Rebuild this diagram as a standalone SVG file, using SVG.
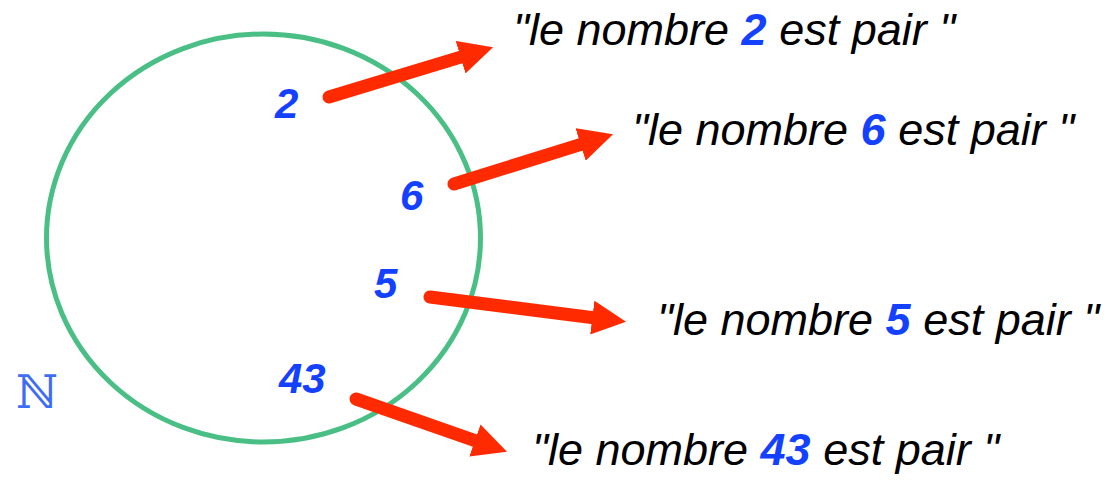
<svg xmlns="http://www.w3.org/2000/svg" width="1107" height="482" viewBox="0 0 1107 482">
  <defs>
    <marker id="head" markerUnits="userSpaceOnUse" viewBox="0 0 34 34" markerWidth="34" markerHeight="34" refX="13" refY="17" orient="auto">
      <path d="M0,0 L34,17 L0,34 Z" fill="#ff2a00"/>
    </marker>
    <style>
      .set { fill: none; stroke: #4abf85; stroke-width: 5; }
      .arrow { stroke: #ff2a00; stroke-width: 13; stroke-linecap: round; fill: none; marker-end: url(#head); }
      .num { font-family: "Liberation Sans", Arial, sans-serif; font-weight: bold; font-style: italic; font-size: 42px; fill: #1440ff; }
      .stmt { font-family: "Liberation Sans", Arial, sans-serif; font-style: italic; font-size: 45px; fill: #000; }
      .stmt .n { font-weight: bold; fill: #1440ff; }
      .setname { font-family: "DejaVu Serif", "DejaVu Sans", serif; font-size: 46px; fill: #3d6df5; }
    </style>
  </defs>
  <rect width="1107" height="482" fill="#ffffff"/>

  <g id="set-N">
    <ellipse class="set" cx="263.5" cy="238" rx="217" ry="204"/>
    <text class="setname" x="16" y="408">ℕ</text>
  </g>

  <g id="elem-2"><text class="num" x="275" y="118">2</text></g>
  <g id="elem-6"><text class="num" x="400" y="210">6</text></g>
  <g id="elem-5"><text class="num" x="374" y="298">5</text></g>
  <g id="elem-43"><text class="num" x="279" y="393">43</text></g>

  <g id="connectors">
    <line class="arrow" x1="329" y1="97" x2="473" y2="53.4"/>
    <line class="arrow" x1="454" y1="184" x2="593" y2="140.6"/>
    <line class="arrow" x1="430" y1="297" x2="605.2" y2="319.2"/>
    <line class="arrow" x1="356" y1="399" x2="487.2" y2="444.8"/>
  </g>

  <g id="stmt-2"><text class="stmt" x="513" y="45">"le nombre <tspan class="n">2</tspan> est pair "</text></g>
  <g id="stmt-6"><text class="stmt" x="632" y="145">"le nombre <tspan class="n">6</tspan> est pair "</text></g>
  <g id="stmt-5"><text class="stmt" x="657" y="335">"le nombre <tspan class="n">5</tspan> est pair "</text></g>
  <g id="stmt-43"><text class="stmt" x="532" y="465">"le nombre <tspan class="n">43</tspan> est pair "</text></g>
</svg>
